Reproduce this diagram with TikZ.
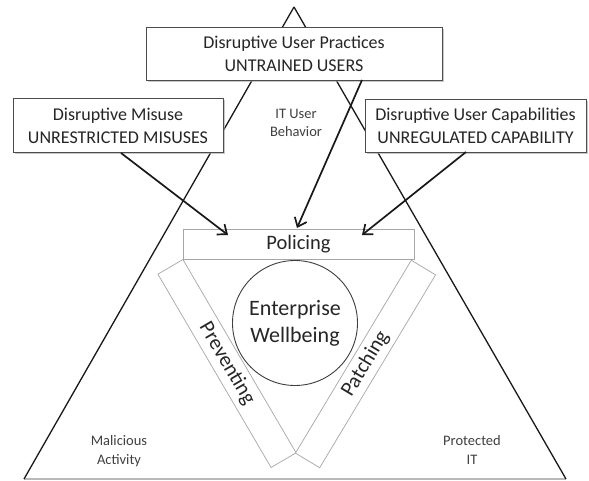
\documentclass[tikz,border=0pt]{standalone}
\usepackage{fontspec}
\setmainfont{Carlito}
\usetikzlibrary{arrows.meta,shadows}
\tikzset{
  side/.style={line width=1.3pt,black!90},
  basel/.style={line width=1.1pt,gray!55},
  topbox/.style={draw=black!70,line width=0.8pt,fill=white,rectangle,inner sep=0pt,
    align=center,text=black!85,font=\fontsize{18}{23}\selectfont,
    drop shadow={shadow xshift=1.6pt,shadow yshift=-1.6pt,fill=black!35,opacity=0.6}},
  band/.style={draw=gray!70,line width=0.7pt,fill=white,rectangle,inner sep=0pt,
    text=black!85,font=\fontsize{21}{25}\selectfont},
  smalllbl/.style={align=center,text=black!75,font=\fontsize{14.5}{18.5}\selectfont},
  bigarrow/.style={line width=1.7pt,black!90,-{Straight Barb[length=8pt,width=13pt,line width=1.7pt]}}
}
\begin{document}
\begin{tikzpicture}[x=1pt,y=-1pt]
\useasboundingbox (0,0) rectangle (589,481);
\fill[white] (0,0) rectangle (589,481);
% big triangle
\coordinate (apex) at (294,7);
\coordinate (bl) at (24,479);
\coordinate (br) at (566,479);
\draw[basel] (bl) -- (br);
\draw[side] (apex) -- (bl);
\draw[side] (apex) -- (br);
% labels inside triangle
\node[smalllbl] (itub) at (296,123) {IT User\\Behavior};
\node[smalllbl] (mal) at (119,451) {Malicious\\Activity};
\node[smalllbl] (prot) at (472,450) {Protected\\IT};
% boxes
\node[topbox,minimum width=296pt,minimum height=53pt] (tbox) at (294,53.5)
  {Disruptive User Practices\\UNTRAINED USERS};
\node[topbox,minimum width=210pt,minimum height=54pt] (lbox) at (118,125.5)
  {Disruptive Misuse\\UNRESTRICTED MISUSES};
\node[topbox,minimum width=221pt,minimum height=53pt] (rbox) at (475.5,126)
  {Disruptive User Capabilities\\UNREGULATED CAPABILITY};
% bands
\node[band,minimum width=224pt,minimum height=29pt,rotate=-59.65] (prev) at (227,363.5) {Preventing};
\node[band,minimum width=225pt,minimum height=28.3pt,rotate=59.0] (patch) at (365.5,364) {Patching};
% policing
\node[band,minimum width=231pt,minimum height=30pt,font=\fontsize{20.5}{24}\selectfont] (pol) at (298.5,244) {Policing};
% circle
\node[circle,draw=black!75,line width=0.9pt,fill=white,minimum size=125pt,inner sep=0pt,
  align=center,text=black!85,font=\fontsize{22}{27}\selectfont] (ew) at (295,323) {Enterprise\\Wellbeing};
% arrows
\coordinate (l0) at (121,153);
\coordinate (l1) at (228,235);
\coordinate (m0) at (362,80);
\coordinate (m1) at (297,228);
\coordinate (r0) at (466,152);
\coordinate (r1) at (362,235);
\draw[bigarrow] (l0) -- (l1);
\draw[bigarrow] (m0) -- (m1);
\draw[bigarrow] (r0) -- (r1);
\end{tikzpicture}
\end{document}
